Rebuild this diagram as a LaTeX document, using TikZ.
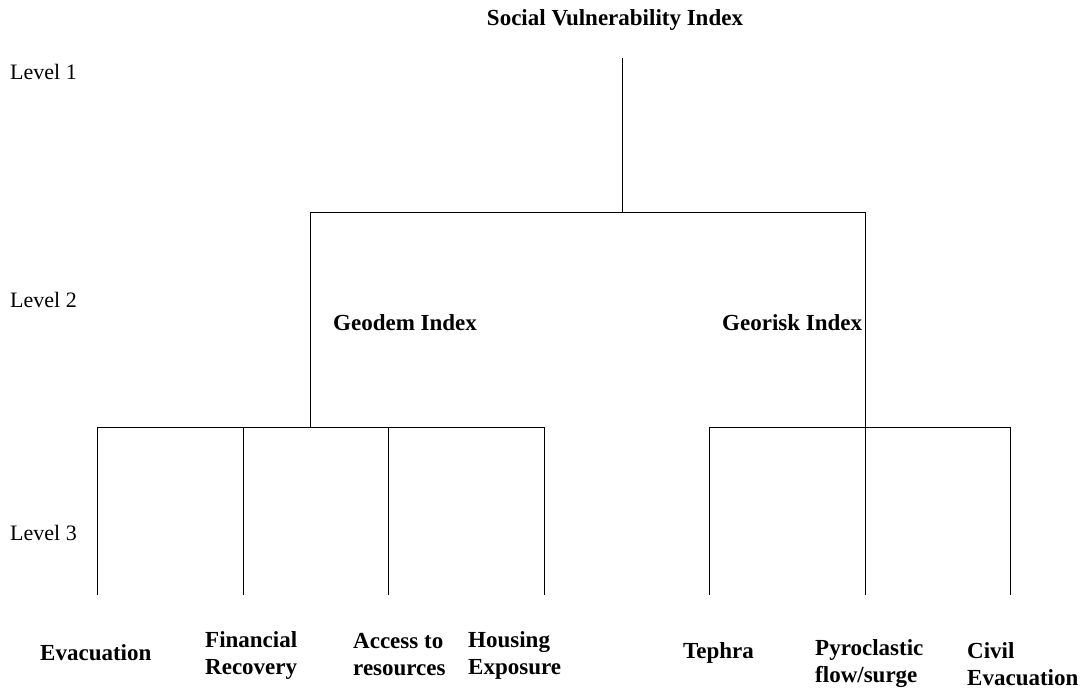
\documentclass[tikz,border=0pt]{standalone}
\usepackage{fontspec}
\setmainfont{Liberation Serif}
\usetikzlibrary{positioning}
\tikzset{lvl node/.style={anchor=west,inner sep=0pt,font=\fontsize{22}{26}\selectfont},
	idx node/.style={inner sep=0pt,font=\fontsize{23}{27}\selectfont\bfseries},
	leaf node/.style={anchor=west,align=left,inner sep=0pt,font=\fontsize{23}{27}\selectfont\bfseries},
	branch/.style={draw,line width=1pt},}

\begin{document}
\begin{tikzpicture}[x=1pt, y=-1pt]
		\useasboundingbox (0,0) rectangle (1091,690);
		% titles and levels
		\node[idx node] (svi) at (615,20) {Social Vulnerability Index};
		\node[lvl node] (lv1) at (10,72) {Level 1};
		\node[lvl node] (lv2) at (10,300) {Level 2};
		\node[lvl node] (lv3) at (10,533) {Level 3};
		\node[idx node, anchor=west] (geodem) at (333,323) {Geodem Index};
		\node[idx node, anchor=west] (georisk) at (722,323) {Georisk Index};
	
		% level 3 labels
		\node[leaf node] (eva) at (40,653) {Evacuation};
		\node[leaf node] (fin) at (205,655) {Financial\\Recovery};
		\node[leaf node] (acc) at (353,655) {Access to\\resources};
		\node[leaf node] (hou) at (468,655) {Housing\\Exposure};
		\node[leaf node] (tep) at (683,653) {Tephra};
		\node[leaf node] (pyr) at (815,664) {Pyroclastic\\flow/surge};
		\node[leaf node] (civ) at (967,664) {Civil\\Evacuation};
	
		% junctions
		\coordinate (root) at (622,58);
		\coordinate (hub) at (622,212);
		\coordinate (gd top) at (310,212);
		\coordinate (gr top) at (865,212);
		\coordinate (gd hub) at (310,427);
		\coordinate (gr hub) at (865,427);
		\coordinate (eva top) at (97,427);
		\coordinate (fin top) at (243,427);
		\coordinate (acc top) at (388,427);
		\coordinate (hou top) at (544,427);
		\coordinate (tep top) at (709,427);
		\coordinate (pyr top) at (865,427);
		\coordinate (civ top) at (1010,427);
	
		\path[branch]
		(root) -- (hub)
		(gd top) -- (gr top)
		(gd top) -- (gd hub)
		(gr top) -- (gr hub)
		(eva top) -- (hou top)
		(tep top) -- (civ top);
	
		\foreach \n in {eva, fin, acc, hou, tep, pyr, civ}
			\draw[branch] (\n\space top) -- ++(0,168);
	\end{tikzpicture}
\end{document}
